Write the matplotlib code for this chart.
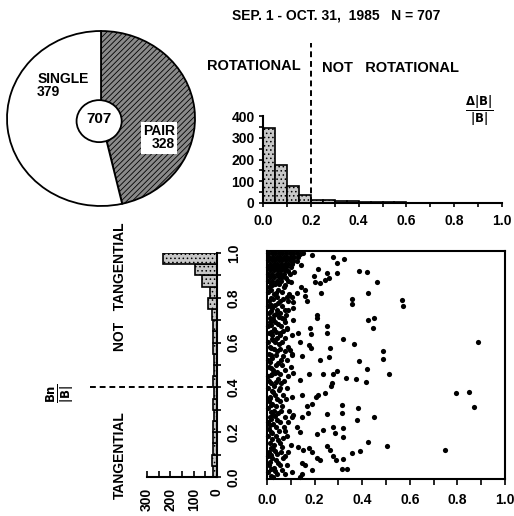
import numpy as np
import matplotlib.pyplot as plt
from matplotlib.patches import Circle

plt.rcParams['font.family'] = ['Liberation Sans', 'DejaVu Sans']
plt.rcParams['font.weight'] = 'bold'
plt.rcParams['hatch.linewidth'] = 0.6

# pie: pair / single events
pie_counts = [328, 379]
pie_labels = ['PAIR\n328', 'SINGLE\n379']
n_total = 707

# histogram of dB/B (bins of 0.05)
db_edges = np.arange(0, 1.0001, 0.05)
db_counts = [345, 175, 80, 38, 15, 14, 9, 7, 5, 4, 3, 3, 2, 2, 1, 1, 1, 1, 1, 0]

# histogram of Bn/B (bins of 0.05)
bn_edges = np.arange(0, 1.0001, 0.05)
bn_counts = [19, 22, 16, 18, 17, 14, 16, 14, 15, 13, 14, 16, 19, 17, 21, 37,
             30, 64, 94, 231]

# scatter points (dB/B, Bn/B)
strip_pts = [
    (0.006, .03), (0.010, .06), (0.004, .10), (0.008, .12), (0.011, .16), (0.005, .19),
    (0.009, .22), (0.006, .25), (0.012, .27), (0.004, .31), (0.008, .34), (0.011, .36),
    (0.005, .40), (0.009, .43), (0.006, .45), (0.010, .49), (0.004, .52), (0.008, .55),
    (0.012, .58), (0.006, .60), (0.009, .64), (0.005, .67), (0.011, .69), (0.007, .73),
    (0.004, .76), (0.010, .78), (0.006, .82), (0.009, .84),
    (0.016, .015), (0.018, .045), (0.014, .075), (0.017, .105), (0.015, .135),
    (0.019, .175), (0.016, .205), (0.014, .235), (0.018, .265), (0.015, .295),
    (0.017, .325), (0.014, .355), (0.019, .385), (0.016, .42), (0.015, .455),
    (0.018, .485), (0.014, .515), (0.017, .545), (0.016, .575), (0.019, .615),
    (0.015, .645), (0.017, .675), (0.014, .705), (0.018, .735), (0.016, .765),
    (0.015, .795), (0.017, .83),
    (0.024, .01), (0.028, .05), (0.021, .09), (0.026, .13), (0.030, .15), (0.022, .20),
    (0.027, .24), (0.024, .28), (0.031, .30), (0.020, .33), (0.026, .38), (0.029, .41),
    (0.023, .46), (0.027, .48), (0.021, .53), (0.030, .57), (0.025, .61), (0.022, .63),
    (0.028, .66), (0.024, .70), (0.031, .72), (0.020, .75), (0.026, .79), (0.029, .81),
    (0.023, .85),
    (0.035, .035), (0.037, .085), (0.034, .125), (0.036, .19), (0.038, .23),
    (0.033, .275), (0.036, .32), (0.035, .37), (0.037, .425), (0.034, .465),
    (0.036, .50), (0.038, .545), (0.033, .60), (0.036, .645), (0.035, .69),
    (0.037, .725), (0.034, .765), (0.036, .815),
    (0.044, .02), (0.048, .07), (0.041, .11), (0.046, .17), (0.050, .21), (0.043, .26),
    (0.047, .29), (0.040, .35), (0.049, .39), (0.045, .44), (0.042, .47), (0.048, .51),
    (0.044, .56), (0.051, .59), (0.041, .62), (0.046, .68), (0.049, .71), (0.043, .74),
    (0.047, .77), (0.040, .80), (0.045, .83),
    (0.055, .06), (0.057, .12), (0.054, .16), (0.056, .25), (0.058, .30), (0.053, .34),
    (0.056, .40), (0.055, .46), (0.057, .52), (0.054, .57), (0.056, .63), (0.058, .67),
    (0.053, .73), (0.056, .78),
    (0.064, .04), (0.068, .09), (0.061, .14), (0.066, .18), (0.070, .23), (0.063, .32),
    (0.067, .37), (0.060, .42), (0.065, .50), (0.069, .54), (0.062, .60), (0.066, .65),
    (0.071, .70), (0.063, .76), (0.068, .79), (0.064, .82),
    (0.075, .02), (0.077, .10), (0.074, .21), (0.076, .27), (0.078, .35), (0.073, .43),
    (0.076, .48), (0.075, .56), (0.077, .62), (0.074, .69), (0.076, .74),
    (0.085, .06), (0.089, .12), (0.082, .19), (0.087, .25), (0.091, .30), (0.084, .40),
    (0.088, .45), (0.083, .52), (0.090, .58), (0.086, .66), (0.081, .72), (0.088, .78),
    (0.092, .81),
    (0.106, .03), (0.102, .15), (0.109, .28), (0.104, .36), (0.101, .49), (0.107, .55),
    (0.103, .63), (0.108, .75), (0.105, .80),
]

cluster_pts = [
    (.005, .99), (.02, .99), (.035, .99), (.05, .99), (.065, .99), (.08, .99), (.095, .99),
    (.11, .99), (.125, .99), (.14, .988),
    (.01, .975), (.025, .975), (.04, .975), (.055, .975), (.07, .975), (.085, .975),
    (.10, .975), (.115, .975), (.13, .972),
    (.005, .96), (.02, .96), (.035, .96), (.05, .96), (.065, .96), (.08, .96), (.095, .96),
    (.11, .958), (.125, .955),
    (.012, .945), (.028, .945), (.044, .945), (.06, .945), (.076, .945), (.09, .945),
    (.105, .943),
    (.005, .93), (.02, .93), (.035, .93), (.05, .93), (.065, .93), (.08, .93), (.10, .928),
    (.012, .915), (.03, .915), (.045, .915), (.06, .915), (.075, .915), (.09, .913),
    (.005, .90), (.02, .90), (.04, .90), (.055, .90), (.07, .90), (.095, .898),
    (.012, .885), (.03, .885), (.05, .885), (.065, .885), (.08, .883),
    (.005, .87), (.022, .87), (.04, .87), (.06, .87), (.09, .868),
    (.015, .855), (.035, .855), (.05, .855), (.075, .853),
    (.153, .99), (.188, .983), (.142, .939), (.113, .91), (.099, .866), (.071, .844),
    (.142, .844), (.160, .829), (.125, .814), (.083, .800), (.111, .778), (.090, .741),
    (.062, .705), (.111, .697), (.083, .661), (.055, .639),
]

outer_pts = [
    (.885, .599), (.793, .379), (.849, .383), (.871, .314), (.746, .126),
    (.566, .785), (.573, .759), (.513, .461), (.486, .561), (.486, .526), (.503, .145),
    (.449, .272), (.461, .865), (.419, .909), (.385, .914), (.426, .814),
    (.424, .697), (.449, .708), (.444, .664), (.422, .481), (.416, .424), (.424, .161),
    (.388, .518), (.366, .592), (.382, .310), (.379, .259), (.391, .121), (.356, .113),
    (.376, .437), (.330, .442), (.321, .613), (.356, .789), (.357, .768), (.324, .966),
    (.296, .946), (.293, .902), (.279, .972), (.314, .325), (.314, .288), (.318, .222),
    (.318, .186), (.321, .086), (.338, .042), (.315, .042), (.279, .461), (.296, .472),
    (.265, .573), (.261, .537), (.254, .673), (.254, .642), (.272, .423), (.268, .408),
    (.244, .379), (.251, .287), (.279, .230), (.286, .200), (.254, .145), (.265, .127),
    (.279, .101), (.290, .083), (.237, .215), (.209, .197), (.223, .522), (.209, .719),
    (.211, .705), (.226, .814), (.213, .921), (.254, .902), (.262, .880), (.244, .873),
    (.223, .858), (.197, .890), (.202, .865), (.237, .461), (.178, .461), (.139, .434),
    (.146, .368), (.188, .329), (.204, .361), (.214, .368), (.167, .322), (.146, .270),
    (.104, .270), (.174, .288), (.125, .230), (.139, .208), (.132, .139), (.153, .127),
    (.178, .135), (.188, .120), (.209, .091), (.223, .083), (.188, .039), (.146, .069),
    (.160, .061), (.139, .010), (.146, .020), (.181, .661), (.183, .635), (.178, .588),
    (.183, .573), (.139, .602), (.132, .639), (.170, .781), (.160, .803), (.146, .539),
    (.111, .463), (.104, .544), (.097, .566),
]

fig = plt.figure(figsize=(5.14, 5.16), dpi=100)

# ---- pie ----
ax_pie = fig.add_axes([7 / 514, 1 - 206 / 516, 188 / 514, 175 / 516])
wedges, _ = ax_pie.pie(pie_counts, startangle=90, counterclock=False,
                       colors=['#8a8a8a', 'white'],
                       wedgeprops=dict(edgecolor='black', linewidth=1.3))
wedges[0].set_hatch('//////')
ax_pie.add_patch(Circle((-0.02, -0.03), 0.24, fc='white', ec='black', lw=1.3, zorder=3))
ax_pie.text(-0.02, -0.01, str(n_total), ha='center', va='center', fontsize=11, zorder=4)
ax_pie.text(-0.68, 0.38, pie_labels[1], ha='left', va='center', fontsize=10,
            linespacing=0.95)
ax_pie.text(0.79, -0.22, pie_labels[0], ha='right', va='center', fontsize=10,
            linespacing=0.95, bbox=dict(fc='white', ec='none', pad=1.5))
ax_pie.set_xlim(-1, 1)
ax_pie.set_ylim(-1, 1)
ax_pie.set_aspect('auto')

fig.text(232 / 514, 1 - 15 / 516, 'SEP. 1 - OCT. 31,  1985   N = 707',
         ha='left', va='center', fontsize=10)

# ---- top histogram (dB/B) ----
ax_top = fig.add_axes([263 / 514, 1 - 203 / 516, 239 / 514, 87 / 516])
ax_top.bar(db_edges[:-1], db_counts, width=0.05, align='edge', color='#c8c8c8',
           edgecolor='black', hatch='....', linewidth=1.2)
ax_top.set_xlim(0, 1)
ax_top.set_ylim(0, 400)
ax_top.spines['top'].set_visible(False)
ax_top.spines['right'].set_visible(False)
for s in ['left', 'bottom']:
    ax_top.spines[s].set_linewidth(1.5)
ax_top.set_xticks(np.arange(0, 1.01, 0.1))
ax_top.set_xticklabels(['0.0', '', '0.2', '', '0.4', '', '0.6', '', '0.8', '', '1.0'])
ax_top.set_yticks([0, 100, 200, 300, 400])
ax_top.set_yticks([50, 150, 250, 350], minor=True)
ax_top.tick_params(labelsize=10, length=3, width=1.2, pad=3)
ax_top.tick_params(axis='x', pad=5)
ax_top.tick_params(which='minor', length=3, width=1.2)
ax_top.plot([0.2, 0.2], [0, 736], ls=(0, (3, 2)), color='black', lw=1.4, clip_on=False)
fig.text(207 / 514, 1 - 66 / 516, 'ROTATIONAL', ha='left', va='center', fontsize=10.5)
fig.text(322 / 514, 1 - 68 / 516, 'NOT   ROTATIONAL', ha='left', va='center',
         fontsize=10.5)
fig.text(479 / 514, 1 - 111 / 516, r'$\frac{\Delta|\mathbf{B}|}{|\mathbf{B}|}$',
         ha='center', va='center', fontsize=12)

# ---- left histogram (Bn/B) ----
ax_left = fig.add_axes([147 / 514, 1 - 477 / 516, 70 / 514, 224 / 516])
ax_left.barh(bn_edges[:-1], bn_counts, height=0.05, align='edge', color='#c8c8c8',
             edgecolor='black', hatch='....', linewidth=1.2)
ax_left.set_xlim(300, 0)
ax_left.set_ylim(0, 1)
ax_left.spines['top'].set_visible(False)
ax_left.spines['left'].set_visible(False)
for s in ['right', 'bottom']:
    ax_left.spines[s].set_linewidth(1.5)
ax_left.yaxis.tick_right()
ax_left.set_yticks(np.arange(0, 1.01, 0.1))
ax_left.set_yticklabels(['0.0', '', '0.2', '', '0.4', '', '0.6', '', '0.8', '', '1.0'],
                        rotation=90, va='center')
ax_left.set_xticks([0, 100, 200, 300])
ax_left.set_xticks([50, 150, 250], minor=True)
ax_left.set_xticklabels(['0', '100', '200', '300'], rotation=90)
ax_left.tick_params(labelsize=10, length=3, width=1.2, pad=4)
ax_left.tick_params(axis='x', which='both', direction='in', length=4, width=1.2, pad=8)
ax_left.plot([544, 0], [0.4, 0.4], ls=(0, (3, 2)), color='black', lw=1.4, clip_on=False)
fig.text(120 / 514, 1 - 287 / 516, 'NOT   TANGENTIAL', rotation=90, ha='center',
         va='center', fontsize=10)
fig.text(120 / 514, 1 - 455 / 516, 'TANGENTIAL', rotation=90, ha='center',
         va='center', fontsize=10)
fig.text(60 / 514, 1 - 393 / 516, r'$\frac{\mathbf{Bn}}{|\mathbf{B}|}$', rotation=90,
         ha='center', va='center', fontsize=12)

# ---- scatter ----
ax_sc = fig.add_axes([267 / 514, 1 - 479 / 516, 238 / 514, 228 / 516])
for pts in (strip_pts, cluster_pts, outer_pts):
    xy = np.array(pts)
    ax_sc.scatter(xy[:, 0], xy[:, 1], s=14, color='black', linewidths=0, clip_on=False)
ax_sc.set_xlim(0, 1)
ax_sc.set_ylim(0, 1)
for s in ax_sc.spines.values():
    s.set_linewidth(1.5)
ax_sc.set_xticks(np.arange(0, 1.01, 0.1))
ax_sc.set_xticklabels(['0.0', '', '0.2', '', '0.4', '', '0.6', '', '0.8', '', '1.0'])
ax_sc.set_yticks([])
ax_sc.tick_params(labelsize=10, length=4, width=1.2, pad=6)

fig.savefig('out.png', dpi=100)
